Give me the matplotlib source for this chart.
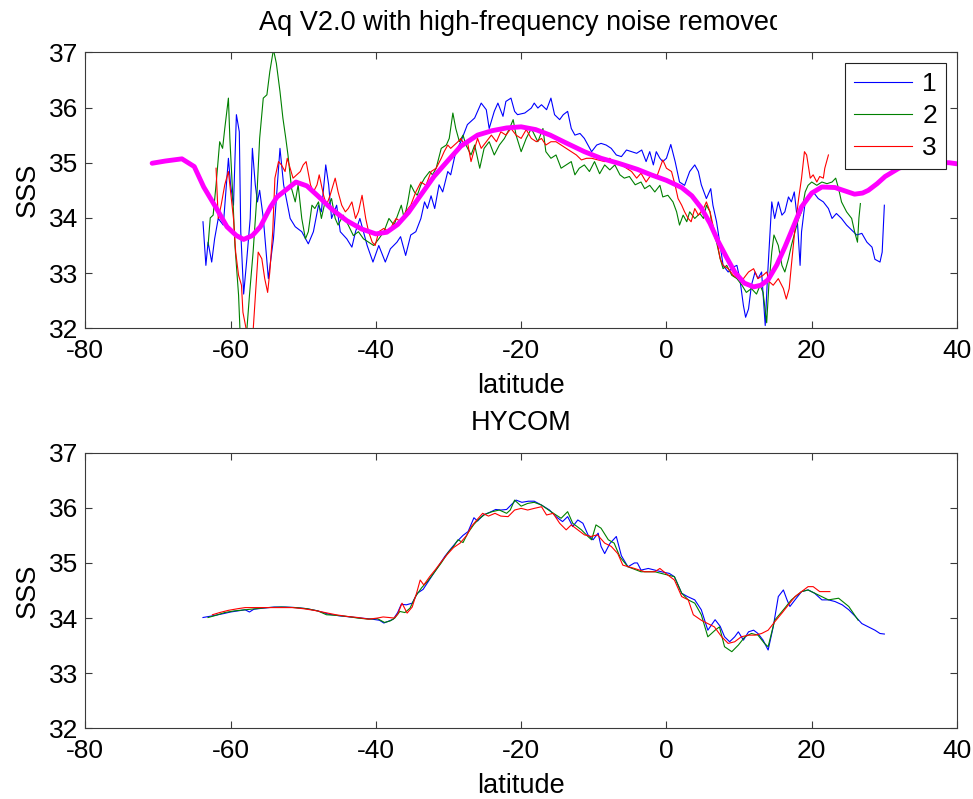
import matplotlib
matplotlib.use('Agg')
import matplotlib.pyplot as plt
from matplotlib.transforms import Bbox

plt.rcParams['font.family'] = ['Liberation Sans', 'DejaVu Sans']
plt.rcParams['axes.unicode_minus'] = False

# ---- Aquarius V2.0 (top panel) ----
aq1_lat = [-63.8, -63.4, -63.1, -62.6, -62.2, -61.7, -61.0, -60.3, -60.0, -59.6, -59.2, -58.8, -58.6, -58.2,
           -57.8, -57.3, -57.0, -56.6, -56.3, -56.0, -55.5, -54.8, -54.1, -53.2, -52.7, -51.8, -51.1, -50.2,
           -49.3, -48.6, -47.9, -47.5, -46.9, -46.5, -46.1, -45.4, -44.9, -44.0, -43.3, -42.8, -42.2, -41.2,
           -40.4, -39.6, -38.7, -38.0, -37.1, -36.6, -35.9, -35.2, -34.5, -33.8, -33.3, -32.9, -32.4, -31.9,
           -31.3, -30.8, -30.1, -29.7, -29.0, -28.3, -27.4, -26.4, -25.5, -24.8, -24.4, -23.7, -23.2, -22.5,
           -22.1, -21.4, -20.9, -20.5, -19.5, -18.6, -18.2, -17.7, -17.2, -16.5, -15.9, -15.4, -14.7, -14.2,
           -13.6, -13.1, -12.6, -11.9, -11.3, -10.8, -10.3, -9.6, -9.0, -8.3, -7.6, -6.9, -6.2, -5.5, -4.8,
           -4.1, -3.4, -2.8, -2.3, -1.8, -1.4, -0.9, -0.5, 0.0, 0.6, 1.2, 1.8, 2.5, 3.2, 3.9, 4.4, 4.8, 5.5,
           6.1, 6.4, 6.9, 7.4, 7.8, 8.5, 9.2, 9.7, 10.1, 10.6, 10.9, 11.3, 11.7, 12.2, 12.6, 13.1, 13.6, 13.9,
           14.5, 14.9, 15.4, 15.9, 16.3, 16.8, 17.2, 17.6, 18.0, 18.4, 18.6, 19.1, 19.5, 20.2, 20.9, 21.6,
           22.3, 22.8, 23.4, 24.1, 24.8, 25.5, 26.2, 26.9, 27.6, 28.3, 28.7, 29.4, 29.7, 30.0]
aq1_sss = [33.93, 33.14, 33.56, 33.20, 33.62, 33.99, 33.87, 35.08, 34.60, 34.23, 35.87, 35.56, 33.75, 32.62,
           33.20, 33.99, 35.26, 34.60, 34.29, 34.50, 34.00, 32.90, 33.62, 35.26, 34.60, 33.99, 33.84, 33.75,
           33.53, 33.75, 34.23, 34.11, 34.96, 34.60, 33.99, 34.23, 33.75, 33.62, 33.47, 33.75, 33.99, 33.50,
           33.20, 33.50, 33.20, 33.44, 33.56, 33.66, 33.32, 33.69, 33.75, 33.99, 34.29, 34.17, 34.40, 34.17,
           34.60, 34.47, 34.84, 34.78, 35.20, 35.38, 35.69, 35.81, 36.08, 35.96, 35.62, 35.93, 36.08, 35.84,
           36.11, 36.17, 35.93, 35.87, 35.90, 35.99, 36.08, 35.99, 36.05, 35.96, 36.17, 35.87, 35.78, 35.87,
           35.93, 35.62, 35.50, 35.53, 35.44, 35.32, 35.20, 35.32, 35.35, 35.32, 35.26, 35.14, 35.11, 35.23, 35.20,
           35.17, 35.23, 35.02, 35.20, 34.96, 35.20, 35.08, 35.02, 35.08, 35.33, 35.02, 34.65, 34.59, 34.84, 34.96,
           34.84, 34.60, 34.35, 34.53, 34.23, 33.93, 33.50, 33.14, 33.02, 33.11, 33.14, 32.90, 32.41, 32.20,
           32.35, 32.78, 33.02, 32.90, 33.02, 32.05, 32.90, 34.29, 33.99, 34.29, 34.05, 34.11, 34.38, 34.29,
           34.47, 33.99, 33.14, 33.75, 34.29, 34.41, 34.47, 34.35, 34.29, 34.17, 33.99, 34.08, 33.99, 33.87,
           33.78, 33.69, 33.72, 33.56, 33.47, 33.25, 33.20, 33.38, 34.23]

aq2_lat = [-63.1, -62.8, -62.4, -62.0, -61.5, -61.1, -60.8, -60.3, -60.1, -59.7, -59.4, -58.9, -58.7, -58.3,
           -57.8, -57.4, -56.9, -56.4, -56.0, -55.5, -55.0, -54.6, -54.1, -53.7, -53.2, -52.8, -52.4, -52.1,
           -51.6, -51.1, -50.7, -50.2, -49.7, -49.3, -48.8, -48.4, -47.9, -47.5, -47.0, -46.5, -46.1, -45.6,
           -45.2, -44.5, -43.8, -43.1, -42.4, -41.7, -41.0, -40.3, -39.6, -38.9, -38.2, -37.5, -37.0, -36.5,
           -36.1, -35.6, -35.2, -34.7, -34.3, -33.8, -33.3, -32.6, -32.2, -31.7, -31.0, -30.3, -29.9, -29.4,
           -29.0, -28.5, -28.0, -27.6, -26.9, -26.4, -25.7, -25.1, -24.4, -23.7, -23.0, -22.3, -21.6, -21.1,
           -20.7, -20.0, -19.3, -18.6, -17.7, -17.0, -16.6, -15.9, -15.2, -14.5, -13.8, -13.1, -12.6, -12.0,
           -11.3, -10.6, -9.9, -9.2, -8.5, -7.8, -7.1, -6.4, -5.8, -5.1, -4.3, -3.5, -3.0, -2.3, -1.6, -0.9,
           -0.5, 0.2, 0.9, 1.4, 1.8, 2.3, 2.8, 3.2, 3.9, 4.6, 5.1, 5.5, 6.0, 6.4, 6.9, 7.4, 7.8, 8.3, 9.0, 9.7,
           10.4, 11.0, 11.7, 12.4, 12.9, 13.3, 13.8, 14.1, 14.5, 14.8, 15.4, 15.9, 16.3, 16.8, 17.2, 17.7,
           18.2, 18.6, 19.1, 19.5, 20.0, 20.7, 21.4, 22.1, 22.8, 23.3, 23.7, 24.1, 24.8, 25.5, 25.9, 26.3,
           26.5, 26.7]
aq2_sss = [33.50, 34.00, 34.05, 34.60, 35.38, 35.26, 35.62, 36.17, 35.44, 34.41, 33.50, 32.60, 31.95, 31.50,
           31.90, 32.60, 33.38, 34.35, 35.44, 36.17, 36.23, 36.65, 37.05, 36.80, 36.29, 35.81, 35.44, 35.14,
           34.53, 34.29, 34.60, 33.99, 33.62, 33.75, 34.23, 34.17, 34.29, 33.99, 34.29, 34.23, 34.35, 33.99,
           33.87, 34.05, 33.87, 33.68, 33.75, 33.62, 33.56, 33.50, 33.62, 33.75, 33.99, 33.87, 34.05, 34.23,
           33.99, 34.29, 34.60, 34.47, 34.41, 34.60, 34.72, 34.84, 34.78, 34.90, 35.26, 35.32, 35.44, 35.90,
           35.62, 35.38, 35.50, 35.32, 35.14, 35.32, 34.90, 35.26, 35.38, 35.14, 35.32, 35.44, 35.62, 35.78,
           35.50, 35.20, 35.44, 35.62, 35.38, 35.62, 35.20, 35.08, 35.14, 34.90, 34.96, 35.02, 34.78, 34.90,
           34.96, 34.84, 35.02, 34.80, 34.96, 34.87, 34.96, 34.78, 34.72, 34.75, 34.60, 34.65, 34.53, 34.59,
           34.47, 34.59, 34.38, 34.41, 34.29, 34.11, 33.87, 34.05, 33.93, 34.11, 33.99, 34.08, 33.99, 34.23,
           34.11, 33.75, 33.56, 33.26, 33.08, 33.14, 32.96, 32.90, 32.78, 32.65, 32.72, 32.62, 32.78, 32.65,
           32.10, 32.78, 33.38, 33.69, 33.50, 33.14, 33.02, 33.26, 33.50, 33.75, 33.99, 34.11, 34.47, 34.59,
           34.65, 34.59, 34.65, 34.62, 34.65, 34.72, 34.53, 34.29, 34.11, 33.99, 33.75, 33.56, 34.00, 34.26]

aq3_lat = [-62.0, -61.9, -61.7, -61.3, -60.8, -60.3, -60.0, -59.6, -59.3, -58.9, -58.5, -58.3, -57.8, -57.3,
           -56.9, -56.5, -56.2, -55.7, -55.3, -54.9, -54.6, -54.2, -53.9, -53.4, -53.0, -52.5, -52.2, -51.8,
           -51.4, -50.9, -50.4, -50.0, -49.6, -49.0, -48.6, -48.1, -47.8, -47.2, -46.8, -46.3, -45.6, -45.2,
           -44.7, -44.2, -43.8, -43.3, -42.8, -42.4, -41.9, -41.4, -41.0, -40.5, -40.1, -39.6, -38.9, -38.2,
           -37.5, -37.2, -36.6, -35.9, -35.2, -34.5, -33.8, -33.1, -32.4, -31.7, -31.0, -30.6, -30.1, -29.7,
           -29.2, -28.7, -28.3, -27.8, -27.4, -26.9, -26.4, -26.0, -25.5, -24.8, -24.1, -23.4, -22.8, -22.1,
           -21.4, -20.7, -20.0, -19.3, -18.6, -17.9, -17.2, -16.6, -15.9, -15.2, -14.5, -13.8, -13.1, -12.4,
           -11.7, -11.0, -10.3, -9.4, -8.5, -7.8, -7.1, -6.2, -5.5, -4.8, -4.1, -3.5, -2.8, -2.1, -1.4, -0.5,
           0.0, 0.7, 1.2, 1.6, 2.1, 2.5, 3.0, 3.4, 3.9, 4.4, 5.1, 5.5, 6.0, 6.4, 6.9, 7.4, 7.8, 8.5, 9.2, 9.9,
           10.6, 11.3, 12.0, 12.6, 13.3, 13.8, 14.2, 14.7, 15.4, 16.1, 16.5, 16.9, 17.2, 17.7, 18.2, 18.6,
           19.0, 19.3, 19.8, 20.2, 20.7, 21.1, 21.6, 21.8, 22.3]
aq3_sss = [34.90, 34.60, 33.99, 34.23, 34.60, 34.84, 34.47, 33.99, 33.38, 32.96, 32.78, 32.29, 31.95, 31.80,
           31.95, 32.78, 33.38, 33.26, 32.90, 32.65, 33.02, 33.75, 34.72, 35.02, 34.96, 34.84, 35.08, 34.90,
           34.72, 34.78, 34.84, 34.96, 35.02, 34.60, 34.47, 34.60, 34.78, 34.41, 34.23, 34.41, 34.72, 34.47,
           34.23, 34.11, 34.17, 34.29, 33.99, 34.11, 34.41, 33.99, 33.75, 33.56, 33.50, 33.75, 33.81, 33.75,
           33.93, 33.99, 33.93, 34.11, 34.23, 34.47, 34.65, 34.59, 34.84, 34.90, 35.08, 35.20, 35.32, 35.26,
           35.32, 35.38, 35.44, 35.32, 35.38, 35.02, 35.26, 35.44, 35.26, 35.38, 35.50, 35.38, 35.56, 35.50,
           35.62, 35.50, 35.44, 35.60, 35.44, 35.38, 35.44, 35.32, 35.38, 35.38, 35.32, 35.26, 35.20, 35.14,
           35.05, 35.08, 35.08, 35.05, 35.02, 35.08, 34.99, 34.96, 34.90, 34.84, 34.72, 34.81, 34.65, 34.78,
           34.72, 35.05, 34.90, 34.84, 34.59, 34.35, 34.23, 34.11, 33.99, 33.93, 34.17, 34.05, 34.17, 34.29,
           34.11, 33.87, 33.62, 33.26, 33.14, 33.08, 32.96, 32.90, 32.90, 33.02, 33.08, 32.90, 32.96, 33.02,
           32.84, 32.78, 32.90, 32.72, 32.53, 32.72, 33.14, 33.81, 34.35, 34.72, 35.20, 35.14, 34.72, 34.78,
           34.65, 34.75, 34.72, 34.90, 35.14]

# smoothed (magenta) curve
smooth_lat = [-70.8, -69.0, -66.7, -65.0, -63.7, -61.8, -60.5, -59.2, -58.2, -57.0, -55.9, -54.5, -53.6,
              -51.0, -49.5, -48.0, -46.0, -44.0, -42.0, -40.0, -38.5, -37.0, -35.5, -34.0, -32.0, -30.0,
              -28.3, -26.0, -24.0, -22.0, -20.0, -18.0, -16.0, -14.0, -11.3, -9.0, -6.6, -4.0, -2.1, 0.0,
              2.1, 3.5, 4.8, 6.0, 7.1, 8.3, 9.4, 10.7, 12.0, 13.0, 14.0, 15.2, 16.3, 17.5, 18.6, 20.0, 21.4,
              23.2, 25.0, 25.9, 27.0, 27.8, 29.0, 30.1, 32.0, 34.0, 36.0, 38.9, 40.0]
smooth_sss = [34.99, 35.03, 35.07, 34.93, 34.56, 34.14, 33.84, 33.68, 33.61, 33.68, 33.84, 34.20, 34.38,
              34.65, 34.58, 34.40, 34.15, 33.95, 33.80, 33.71, 33.74, 33.88, 34.10, 34.38, 34.75, 35.05,
              35.30, 35.50, 35.58, 35.63, 35.65, 35.60, 35.50, 35.37, 35.20, 35.08, 34.99, 34.88, 34.78, 34.68,
              34.55, 34.40, 34.18, 33.90, 33.58, 33.28, 33.02, 32.82, 32.75, 32.78, 32.88, 33.15, 33.47, 33.85,
              34.20, 34.45, 34.56, 34.55, 34.47, 34.43, 34.45, 34.50, 34.62, 34.75, 34.90, 34.98, 35.00, 35.00,
              34.98]

# ---- HYCOM (bottom panel) ----
hy1_lat = [-63.8, -62.5, -61.0, -60.0, -59.0, -58.0, -57.4, -56.8, -55.5, -54.0, -52.5, -51.0, -49.5, -48.0,
           -46.5, -45.0, -43.5, -42.0, -40.5, -39.5, -38.9, -38.3, -37.6, -37.0, -36.5, -35.8, -35.0, -34.3,
           -33.5, -32.5, -31.5, -30.5, -29.6, -28.9, -28.0, -27.3, -26.5, -26.0, -25.2, -24.3, -23.5, -22.8,
           -22.0, -21.4, -20.7, -19.9, -19.0, -18.2, -17.2, -16.1, -15.2, -14.3, -13.6, -12.9, -12.2, -11.5,
           -10.8, -10.1, -9.4, -9.0, -8.5, -7.8, -6.9, -6.2, -5.3, -4.4, -4.0, -3.5, -2.5, -1.6, -0.7, 0.4,
           1.1, 2.1, 2.9, 3.9, 4.8, 5.7, 6.7, 7.4, 8.0, 8.7, 9.4, 9.9, 10.6, 11.3, 12.0, 12.6, 13.3, 14.0,
           14.7, 15.4, 16.1, 16.6, 17.0, 17.7, 18.6, 19.5, 20.4, 21.4, 22.3, 23.2, 24.2, 25.1, 26.0, 26.9,
           27.8, 28.7, 29.4, 30.0]
hy1_sss = [34.01, 34.04, 34.08, 34.11, 34.13, 34.15, 34.11, 34.16, 34.18, 34.20, 34.20, 34.19, 34.17, 34.13,
           34.07, 34.04, 34.02, 34.00, 33.98, 33.96, 33.91, 33.94, 33.98, 34.10, 34.25, 34.24, 34.27, 34.45,
           34.52, 34.72, 34.92, 35.12, 35.27, 35.38, 35.50, 35.57, 35.82, 35.76, 35.87, 35.92, 35.97, 35.96,
           35.97, 36.05, 36.14, 36.10, 36.12, 36.12, 36.05, 35.96, 35.84, 35.75, 35.84, 35.66, 35.78, 35.72,
           35.51, 35.42, 35.54, 35.30, 35.17, 35.35, 35.48, 35.13, 34.93, 35.00, 35.00, 34.87, 34.90, 34.87,
           34.84, 34.81, 34.75, 34.45, 34.39, 34.33, 34.15, 33.78, 33.97, 33.85, 33.66, 33.57, 33.66, 33.75,
           33.60, 33.75, 33.78, 33.72, 33.60, 33.42, 33.84, 34.39, 34.51, 34.33, 34.21, 34.33, 34.48, 34.51,
           34.45, 34.33, 34.33, 34.30, 34.24, 34.15, 34.03, 33.90, 33.84, 33.78, 33.72, 33.71]

hy2_lat = [-63.1, -62.0, -60.8, -59.5, -58.0, -56.5, -55.0, -53.0, -51.0, -49.5, -48.0, -46.8, -45.5, -44.0,
           -42.5, -41.0, -39.8, -38.8, -38.0, -37.4, -36.7, -36.0, -35.3, -34.5, -33.7, -32.8, -32.0, -31.0,
           -30.0, -29.3, -28.7, -28.0, -27.3, -26.5, -25.8, -25.0, -24.0, -23.0, -22.0, -21.5, -20.9, -20.0,
           -19.1, -18.2, -17.2, -15.9, -14.5, -13.6, -12.9, -11.7, -10.8, -10.3, -9.7, -9.0, -8.0, -7.2, -6.4,
           -5.3, -3.5, -1.6, 0.2, 1.1, 2.1, 3.0, 3.9, 4.8, 5.7, 6.7, 7.3, 8.0, 9.0, 9.9, 10.8, 11.7, 12.6,
           13.5, 14.0, 14.9, 16.1, 17.2, 18.6, 19.5, 20.9, 22.3, 23.7, 25.1, 26.4]
hy2_sss = [34.01, 34.05, 34.10, 34.13, 34.15, 34.17, 34.19, 34.20, 34.19, 34.17, 34.13, 34.06, 34.05, 34.03,
           34.00, 33.98, 33.99, 33.92, 33.95, 34.00, 34.12, 34.10, 34.18, 34.40, 34.55, 34.68, 34.82, 35.00,
           35.20, 35.30, 35.42, 35.37, 35.55, 35.70, 35.80, 35.88, 35.93, 35.96, 35.90, 35.96, 36.14, 36.03,
           36.08, 36.10, 36.05, 35.93, 35.81, 35.93, 35.72, 35.60, 35.48, 35.42, 35.69, 35.63, 35.42, 35.36,
           35.11, 34.93, 34.84, 34.84, 34.78, 34.75, 34.45, 34.33, 34.27, 34.06, 33.66, 33.78, 33.84, 33.48,
           33.39, 33.51, 33.66, 33.72, 33.69, 33.54, 33.48, 33.96, 34.15, 34.33, 34.48, 34.51, 34.42, 34.33,
           34.36, 34.21, 33.96]

hy3_lat = [-62.5, -61.5, -60.3, -59.0, -58.0, -57.0, -55.5, -53.5, -51.5, -50.0, -48.5, -47.0, -45.5, -44.0,
           -42.5, -41.0, -39.8, -39.0, -38.2, -37.5, -37.0, -36.4, -35.7, -35.0, -34.4, -33.9, -33.4, -32.6,
           -31.8, -31.0, -30.2, -29.3, -28.4, -27.5, -26.8, -26.1, -25.3, -24.5, -23.6, -22.8, -21.8, -20.9,
           -20.0, -19.1, -18.2, -17.2, -16.5, -15.6, -14.7, -13.8, -13.1, -12.2, -11.3, -10.4, -9.5, -8.5,
           -7.6, -6.7, -6.0, -4.4, -3.0, -1.6, -0.9, 0.2, 1.1, 2.1, 3.0, 3.7, 4.8, 5.7, 6.6, 7.6, 8.5, 9.4,
           10.3, 11.3, 12.2, 13.1, 14.0, 14.9, 15.9, 16.8, 17.7, 18.6, 19.5, 20.2, 21.1, 22.0, 22.5]
hy3_sss = [34.06, 34.10, 34.14, 34.17, 34.19, 34.19, 34.19, 34.19, 34.19, 34.17, 34.14, 34.10, 34.06, 34.03,
           34.01, 33.98, 34.00, 34.02, 34.01, 34.00, 34.07, 34.27, 34.09, 34.20, 34.45, 34.69, 34.60, 34.75,
           34.88, 35.02, 35.15, 35.28, 35.36, 35.50, 35.67, 35.78, 35.90, 35.85, 35.90, 35.85, 35.84, 35.96,
           35.99, 35.96, 35.99, 36.02, 35.87, 35.90, 35.72, 35.60, 35.69, 35.60, 35.51, 35.48, 35.51, 35.36,
           35.30, 35.17, 34.96, 34.90, 34.84, 34.84, 34.90, 34.78, 34.69, 34.39, 34.33, 34.06, 33.96, 33.90,
           33.84, 33.66, 33.54, 33.57, 33.66, 33.69, 33.69, 33.72, 33.78, 33.93, 34.09, 34.24, 34.39, 34.48,
           34.57, 34.57, 34.48, 34.48, 34.48]

series_labels = ['1', '2', '3']
series_colors = ['#0000ff', '#008000', '#ff0000']
xticks = [-80, -60, -40, -20, 0, 20, 40]
yticks = [32, 33, 34, 35, 36, 37]

W, H = 973, 799
fig = plt.figure(figsize=(W / 100, H / 100), dpi=100)
ax1 = fig.add_axes([85.3 / W, 1 - 328.3 / H, (957 - 85.3) / W, (328.3 - 52.3) / H])
ax2 = fig.add_axes([85.3 / W, 1 - 728.3 / H, (957 - 85.3) / W, (728.3 - 452.7) / H])


def style_axes(ax):
    ax.set_xlim(-80, 40)
    ax.set_ylim(32, 37)
    ax.set_xticks(xticks)
    ax.set_yticks(yticks)
    ax.tick_params(direction='in', top=True, right=True, length=5, width=0.8,
                   color='#3a3a3a', labelsize=19)
    ax.tick_params(axis='x', pad=8)
    ax.tick_params(axis='y', pad=5)
    for s in ax.spines.values():
        s.set_color('#3a3a3a')
        s.set_linewidth(0.8)
    ax.set_xlabel('latitude', fontsize=19.5, labelpad=7)
    ax.set_ylabel('SSS', fontsize=19.5, labelpad=6)


lines = []
for lat, sss, c, lab in zip([aq1_lat, aq2_lat, aq3_lat], [aq1_sss, aq2_sss, aq3_sss],
                            series_colors, series_labels):
    l, = ax1.plot(lat, sss, color=c, lw=0.8, label=lab)
    lines.append(l)
ax1.plot(smooth_lat, smooth_sss, color='#ff00ff', lw=3.5, solid_capstyle='round')
style_axes(ax1)
leg = ax1.legend(handles=lines, loc='upper right', fontsize=19, frameon=True, fancybox=False,
                 framealpha=1, edgecolor='#222222', handlelength=2.2, handletextpad=0.4,
                 labelspacing=0.3, borderpad=0.35, borderaxespad=0.4)
leg.get_frame().set_linewidth(0.8)

t = ax1.set_title('Aq V2.0 with high-frequency noise removed', fontsize=19.5, pad=16)
# the title is cut off at the right in the original figure
t.set_clip_box(Bbox.from_extents(0, 0, 777, H))
t.set_clip_on(True)

for lat, sss, c in zip([hy1_lat, hy2_lat, hy3_lat], [hy1_sss, hy2_sss, hy3_sss], series_colors):
    ax2.plot(lat, sss, color=c, lw=0.8)
style_axes(ax2)
ax2.set_title('HYCOM', fontsize=19.5, pad=16)

fig.savefig('out.png', dpi=100)
